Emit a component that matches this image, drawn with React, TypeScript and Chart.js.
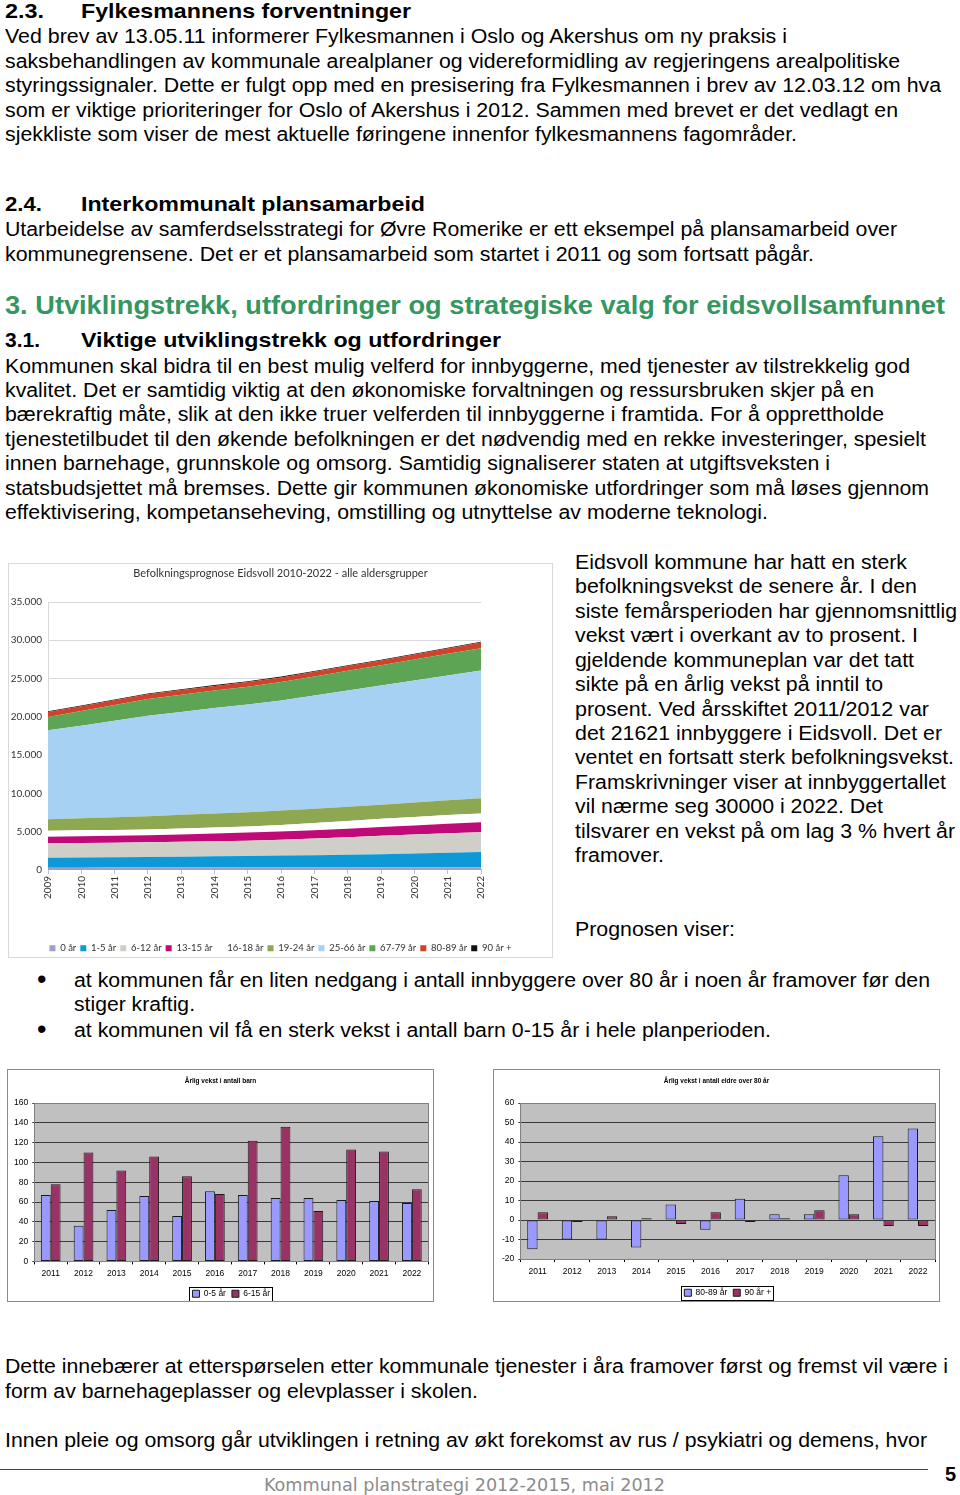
import React, { useEffect, useLayoutEffect, useRef } from 'react';
import { Chart, registerables } from 'chart.js';
Chart.register(...registerables);

// ---------- Chart data ----------
const years = ['2009', '2010', '2011', '2012', '2013', '2014', '2015', '2016', '2017', '2018', '2019', '2020', '2021', '2022'];
const age0 = [290, 295, 300, 300, 305, 310, 310, 315, 320, 325, 330, 335, 340, 345];
const age1to5 = [1300, 1330, 1360, 1390, 1420, 1460, 1500, 1550, 1600, 1650, 1720, 1800, 1900, 2000];
const age6to12 = [1880, 1890, 1900, 1920, 1950, 1980, 2010, 2080, 2180, 2280, 2400, 2480, 2540, 2580];
const age13to15 = [870, 880, 900, 920, 960, 1000, 1050, 1070, 1090, 1110, 1140, 1200, 1260, 1310];
const age16to18 = [790, 770, 750, 740, 760, 780, 790, 850, 950, 1030, 1090, 1110, 1130, 1140];
const age19to24 = [1490, 1580, 1680, 1750, 1800, 1850, 1880, 1880, 1860, 1850, 1840, 1870, 1920, 1970];
const age25to66 = [11620, 12100, 12600, 13110, 13450, 13780, 14070, 14400, 14800, 15200, 15560, 15950, 16300, 16690];
const age67to79 = [1750, 1900, 2050, 2185, 2230, 2280, 2320, 2400, 2480, 2570, 2660, 2750, 2840, 2930];
const age80to89 = [650, 650, 635, 625, 615, 601, 609, 604, 615, 618, 621, 644, 687, 734];
const age90plus = [95, 95, 99, 98, 100, 101, 99, 103, 102, 103, 108, 111, 108, 105];
const areaLabels = ['0 år', '1-5 år', '6-12 år', '13-15 år', '16-18 år', '19-24 år', '25-66 år', '67-79 år', '80-89 år', '90 år +'];
const areaTitle = 'Befolkningsprognose Eidsvoll 2010-2022 - alle aldersgrupper';

const barYears = ['2011', '2012', '2013', '2014', '2015', '2016', '2017', '2018', '2019', '2020', '2021', '2022'];
const barn0to5 = [67, 36, 52, 66, 46, 71, 67, 64, 64, 62, 61, 59];
const barn6to15 = [78, 110, 92, 106, 86, 68, 122, 136, 51, 113, 111, 73];
const eldre80to89 = [-15, -10, -10, -14, 8, -5, 11, 3, 3, 23, 43, 47];
const eldre90plus = [4, -1, 2, 1, -2, 4, -1, 1, 5, 3, -3, -3];

// ---------- helpers ----------
const fmtThousands = (v: number) => {
  const s = String(Math.round(v));
  return s.replace(/\B(?=(\d{3})+(?!\d))/g, '.');
};

const plotBg = {
  id: 'plotBg',
  beforeDraw(chart: any, _a: any, opts: any) {
    if (!opts || !opts.color) return;
    const { ctx, chartArea } = chart;
    ctx.save();
    ctx.fillStyle = opts.color;
    ctx.fillRect(chartArea.left, chartArea.top, chartArea.width, chartArea.height);
    ctx.restore();
  },
  afterDraw(chart: any, _a: any, opts: any) {
    if (!opts || !opts.border) return;
    const { ctx, chartArea } = chart;
    ctx.save();
    ctx.strokeStyle = opts.border;
    ctx.lineWidth = 1;
    ctx.strokeRect(Math.round(chartArea.left) + 0.5, Math.round(chartArea.top) + 0.5, Math.round(chartArea.width), Math.round(chartArea.height));
    ctx.restore();
  },
};

const legendBox = {
  id: 'legendBox',
  afterDraw(chart: any, _a: any, opts: any) {
    if (!opts || !opts.color) return;
    const lg: any = chart.legend;
    if (!lg || !lg.legendHitBoxes || !lg.legendHitBoxes.length) return;
    let l = Infinity, r = -Infinity, t = Infinity, b = -Infinity;
    lg.legendHitBoxes.forEach((h: any) => {
      l = Math.min(l, h.left);
      r = Math.max(r, h.left + h.width);
      t = Math.min(t, h.top);
      b = Math.max(b, h.top + h.height);
    });
    const ctx = chart.ctx;
    ctx.save();
    ctx.strokeStyle = opts.color;
    ctx.lineWidth = 1;
    ctx.strokeRect(Math.round(l - 3) + 0.5, Math.round(t - 3) + 0.5, Math.round(r - l + 5), Math.round(b - t + 5));
    ctx.restore();
  },
};

// ---------- Text line with width fitting ----------
type LineProps = { x: number; y: number; r?: number; text: string; size?: number; bold?: boolean; color?: string; family?: string };
function TextLine({ x, y, r, text, size = 20, bold = false, color = '#000', family = '"Liberation Sans", Arial, sans-serif' }: LineProps) {
  const ref = useRef<HTMLDivElement>(null);
  useLayoutEffect(() => {
    const el = ref.current;
    if (!el) return;
    el.style.transform = 'none';
    const natural = el.getBoundingClientRect().width;
    if (r && natural > 0) el.style.transform = `scaleX(${(r - x) / natural})`;
  }, [x, r, text, size]);
  return (
    <div
      ref={ref}
      style={{
        position: 'absolute',
        left: x,
        top: y - 0.8465 * size,
        fontSize: size,
        lineHeight: `${size}px`,
        fontWeight: bold ? 700 : 400,
        color,
        fontFamily: family,
        whiteSpace: 'nowrap',
        transformOrigin: '0 0',
      }}
    >
      {text}
    </div>
  );
}

// ---------- Area chart ----------
function AreaChart() {
  const ref = useRef<HTMLCanvasElement>(null);
  useEffect(() => {
    const font = '"Lato", "Open Sans", sans-serif';
    const series = [age0, age1to5, age6to12, age13to15, age16to18, age19to24, age25to66, age67to79, age80to89, age90plus];
    const colors = ['#9C9ECF', '#0D99D6', '#CFCFC8', '#BF0A78', '#FFFFFF', '#8EA852', '#A6D1F2', '#5DA555', '#D2412A', '#111111'];
    const chart = new Chart(ref.current!, {
      type: 'line',
      data: {
        labels: years,
        datasets: series.map((d, i) => ({
          label: areaLabels[i],
          data: d,
          backgroundColor: colors[i],
          borderColor: colors[i],
          borderWidth: 0,
          pointRadius: 0,
          fill: i === 0 ? 'origin' : '-1',
          tension: 0,
        })),
      },
      options: {
        responsive: false,
        animation: false,
        events: [],
        layout: { padding: 0 },
        plugins: {
          title: {
            display: true,
            text: areaTitle,
            color: '#333',
            font: { family: font, size: 11, weight: 'normal' },
            padding: { top: 3.4, bottom: 22.4 },
          },
          legend: {
            position: 'bottom',
            labels: { boxWidth: 6, boxHeight: 6, color: '#333', font: { family: font, size: 9.5 }, padding: 4 },
          },
          tooltip: { enabled: false },
        },
        scales: {
          x: {
            grid: { display: true, drawOnChartArea: false, drawTicks: true, tickLength: 4, color: '#BFBFBF' },
            border: { display: true, color: '#BFBFBF' },
            ticks: { minRotation: 90, maxRotation: 90, autoSkip: false, color: '#333', font: { family: font, size: 10 }, padding: 2 },
            afterFit: (s: any) => { s.height = 69.6; },
          },
          y: {
            stacked: true,
            min: 0,
            max: 35000,
            ticks: { stepSize: 5000, color: '#333', font: { family: font, size: 10 }, padding: 6, callback: (v: any) => fmtThousands(Number(v)) },
            grid: { color: '#D9D9D9', drawTicks: false },
            border: { display: true, color: '#D9D9D9' },
            afterFit: (s: any) => { s.width = 40; },
          },
          y2: {
            position: 'right',
            grid: { display: false },
            border: { display: false },
            ticks: { display: false },
            afterFit: (s: any) => { s.width = 72; },
          },
        },
      } as any,
    });
    return () => chart.destroy();
  }, []);
  return (
    <>
      <canvas ref={ref} width={545} height={400} style={{ position: 'absolute', left: 8, top: 563, width: 545, height: 400 }} />
      <div style={{ position: 'absolute', left: 8, top: 563, width: 545, height: 395, boxSizing: 'border-box', border: '1px solid #D9D9D9', pointerEvents: 'none' }} />
    </>
  );
}

// ---------- Bar charts ----------
type BarProps = {
  left: number; top: number; w: number; h: number; boxH: number;
  title: string; a: number[]; b: number[]; aLabel: string; bLabel: string;
  min: number; max: number; step: number;
  yW: number; rightW: number; titleTop: number; titleBottom: number; xH: number;
};
function BarChart(p: BarProps) {
  const ref = useRef<HTMLCanvasElement>(null);
  useEffect(() => {
    const font = '"Liberation Sans", Arial, sans-serif';
    const chart = new Chart(ref.current!, {
      type: 'bar',
      data: {
        labels: barYears,
        datasets: [
          { label: p.aLabel, data: p.a, backgroundColor: '#9999FF', borderColor: '#1a1a1a', borderWidth: 1, borderSkipped: false, categoryPercentage: 0.6, barPercentage: 1 },
          { label: p.bLabel, data: p.b, backgroundColor: '#993366', borderColor: '#1a1a1a', borderWidth: 1, borderSkipped: false, categoryPercentage: 0.6, barPercentage: 1 },
        ],
      },
      options: {
        responsive: false,
        animation: false,
        events: [],
        layout: { padding: 0 },
        plugins: {
          plotBg: { color: '#C0C0C0', border: '#808080' },
          legendBox: { color: '#000' },
          title: {
            display: true,
            text: p.title,
            color: '#000',
            font: { family: font, size: 6.5, weight: 'bold' },
            padding: { top: p.titleTop, bottom: p.titleBottom },
          },
          legend: {
            position: 'bottom',
            fullSize: false,
            labels: { boxWidth: 7, boxHeight: 7, color: '#000', font: { family: font, size: 8.5 }, padding: 6 },
          },
          tooltip: { enabled: false },
        },
        scales: {
          x: {
            grid: { display: true, drawOnChartArea: false, drawTicks: true, tickLength: 3, color: '#000', offset: true },
            border: { display: true, color: '#000' },
            ticks: { color: '#000', font: { family: font, size: 8.5 }, padding: 4, autoSkip: false, maxRotation: 0 },
            afterFit: (s: any) => { s.height = p.xH; },
          },
          y: {
            min: p.min,
            max: p.max,
            ticks: { stepSize: p.step, color: '#000', font: { family: font, size: 8.5 }, padding: 4 },
            grid: { color: '#3a3a3a', drawTicks: true, tickLength: 2 },
            border: { display: true, color: '#000' },
            afterFit: (s: any) => { s.width = p.yW; },
          },
          y2: {
            position: 'right',
            grid: { display: false },
            border: { display: false },
            ticks: { display: false },
            afterFit: (s: any) => { s.width = p.rightW; },
          },
        },
      } as any,
      plugins: [plotBg, legendBox],
    });
    return () => chart.destroy();
  }, []);
  return (
    <>
      <canvas ref={ref} width={p.w} height={p.h} style={{ position: 'absolute', left: p.left, top: p.top, width: p.w, height: p.h }} />
      <div style={{ position: 'absolute', left: p.left, top: p.top, width: p.w, height: p.boxH, boxSizing: 'border-box', border: '1px solid #8a8a8a', pointerEvents: 'none' }} />
    </>
  );
}

// ---------- Page ----------
const bodyLines: [number, number, number, string][] = [
  [5, 43, 787, 'Ved brev av 13.05.11 informerer Fylkesmannen i Oslo og Akershus om ny praksis i'],
  [5, 68, 900, 'saksbehandlingen av kommunale arealplaner og videreformidling av regjeringens arealpolitiske'],
  [5, 92, 941, 'styringssignaler. Dette er fulgt opp med en presisering fra Fylkesmannen i brev av 12.03.12 om hva'],
  [5, 117, 898, 'som er viktige prioriteringer for Oslo of Akershus i 2012. Sammen med brevet er det vedlagt en'],
  [5, 141, 797, 'sjekkliste som viser de mest aktuelle føringene innenfor fylkesmannens fagområder.'],
  [5, 236, 897, 'Utarbeidelse av samferdselsstrategi for Øvre Romerike er ett eksempel på plansamarbeid over'],
  [5, 261, 814, 'kommunegrensene. Det er et plansamarbeid som startet i 2011 og som fortsatt pågår.'],
  [5, 373, 910, 'Kommunen skal bidra til en best mulig velferd for innbyggerne, med tjenester av tilstrekkelig god'],
  [5, 397, 874, 'kvalitet. Det er samtidig viktig at den økonomiske forvaltningen og ressursbruken skjer på en'],
  [5, 421, 884, 'bærekraftig måte, slik at den ikke truer velferden til innbyggerne i framtida. For å opprettholde'],
  [5, 446, 926, 'tjenestetilbudet til den økende befolkningen er det nødvendig med en rekke investeringer, spesielt'],
  [5, 470, 830, 'innen barnehage, grunnskole og omsorg. Samtidig signaliserer staten at utgiftsveksten i'],
  [5, 495, 929, 'statsbudsjettet må bremses. Dette gir kommunen økonomiske utfordringer som må løses gjennom'],
  [5, 519, 768, 'effektivisering, kompetanseheving, omstilling og utnyttelse av moderne teknologi.'],
  [575, 569, 907, 'Eidsvoll kommune har hatt en sterk'],
  [575, 593, 917, 'befolkningsvekst de senere år. I den'],
  [575, 618, 957, 'siste femårsperioden har gjennomsnittlig'],
  [575, 642, 918, 'vekst vært i overkant av to prosent. I'],
  [575, 667, 914, 'gjeldende kommuneplan var det tatt'],
  [575, 691, 883, 'sikte på en årlig vekst på inntil to'],
  [575, 716, 929, 'prosent. Ved årsskiftet 2011/2012 var'],
  [575, 740, 942, 'det 21621 innbyggere i Eidsvoll. Det er'],
  [575, 764, 954, 'ventet en fortsatt sterk befolkningsvekst.'],
  [575, 789, 946, 'Framskrivninger viser at innbyggertallet'],
  [575, 813, 883, 'vil nærme seg 30000 i 2022. Det'],
  [575, 838, 955, 'tilsvarer en vekst på om lag 3 % hvert år'],
  [575, 862, 664, 'framover.'],
  [575, 936, 735, 'Prognosen viser:'],
  [74, 987, 930, 'at kommunen får en liten nedgang i antall innbyggere over 80 år i noen år framover før den'],
  [74, 1011, 195, 'stiger kraftig.'],
  [74, 1037, 771, 'at kommunen vil få en sterk vekst i antall barn 0-15 år i hele planperioden.'],
  [5, 1373, 948, 'Dette innebærer at etterspørselen etter kommunale tjenester i åra framover først og fremst vil være i'],
  [5, 1398, 478, 'form av barnehageplasser og elevplasser i skolen.'],
  [5, 1447, 927, 'Innen pleie og omsorg går utviklingen i retning av økt forekomst av rus / psykiatri og demens, hvor'],
];

const headLines: [number, number, number, string][] = [
  [5, 18, 44, '2.3.'],
  [81, 18, 411, 'Fylkesmannens forventninger'],
  [5, 211, 42, '2.4.'],
  [81, 211, 425, 'Interkommunalt plansamarbeid'],
  [5, 347, 40, '3.1.'],
  [81, 347, 501, 'Viktige utviklingstrekk og utfordringer'],
];

export default function App() {
  return (
    <div style={{ position: 'absolute', left: 0, top: 0, width: 960, height: 1495, background: '#fff', overflow: 'hidden' }}>
      {headLines.map(([x, y, r, t], i) => (
        <TextLine key={'h' + i} x={x} y={y} r={r} text={t} size={21} bold />
      ))}
      <TextLine x={5} y={314} r={945} text="3. Utviklingstrekk, utfordringer og strategiske valg for eidsvollsamfunnet" size={26} bold color="#35975F" />
      {bodyLines.map(([x, y, r, t], i) => (
        <TextLine key={'b' + i} x={x} y={y} r={r} text={t} size={20} />
      ))}
      <TextLine x={37} y={989} text="•" size={27} />
      <TextLine x={37} y={1039} text="•" size={27} />

      <AreaChart />
      <BarChart
        left={7} top={1069} w={427} h={239} boxH={233}
        title="Årlig vekst i antall barn" a={barn0to5} b={barn6to15} aLabel="0-5 år" bLabel="6-15 år"
        min={0} max={160} step={20}
        yW={27.3} rightW={5.7} titleTop={8.8} titleBottom={17.5} xH={22.1}
      />
      <BarChart
        left={493} top={1069} w={447} h={238} boxH={233}
        title="Årlig vekst i antall eldre over 80 år" a={eldre80to89} b={eldre90plus} aLabel="80-89 år" bLabel="90 år +"
        min={-20} max={60} step={10}
        yW={27.3} rightW={4.7} titleTop={8.8} titleBottom={17.5} xH={23.4}
      />

      <div style={{ position: 'absolute', left: 0, top: 1469, width: 928, height: 1, background: '#444' }} />
      <TextLine x={945} y={1481} text="5" size={20} bold />
      <TextLine x={264} y={1491} r={665} text="Kommunal planstrategi 2012-2015, mai 2012" size={18} color="#8c8c8c" family='"DejaVu Sans Condensed", "DejaVu Sans", sans-serif' />
    </div>
  );
}
